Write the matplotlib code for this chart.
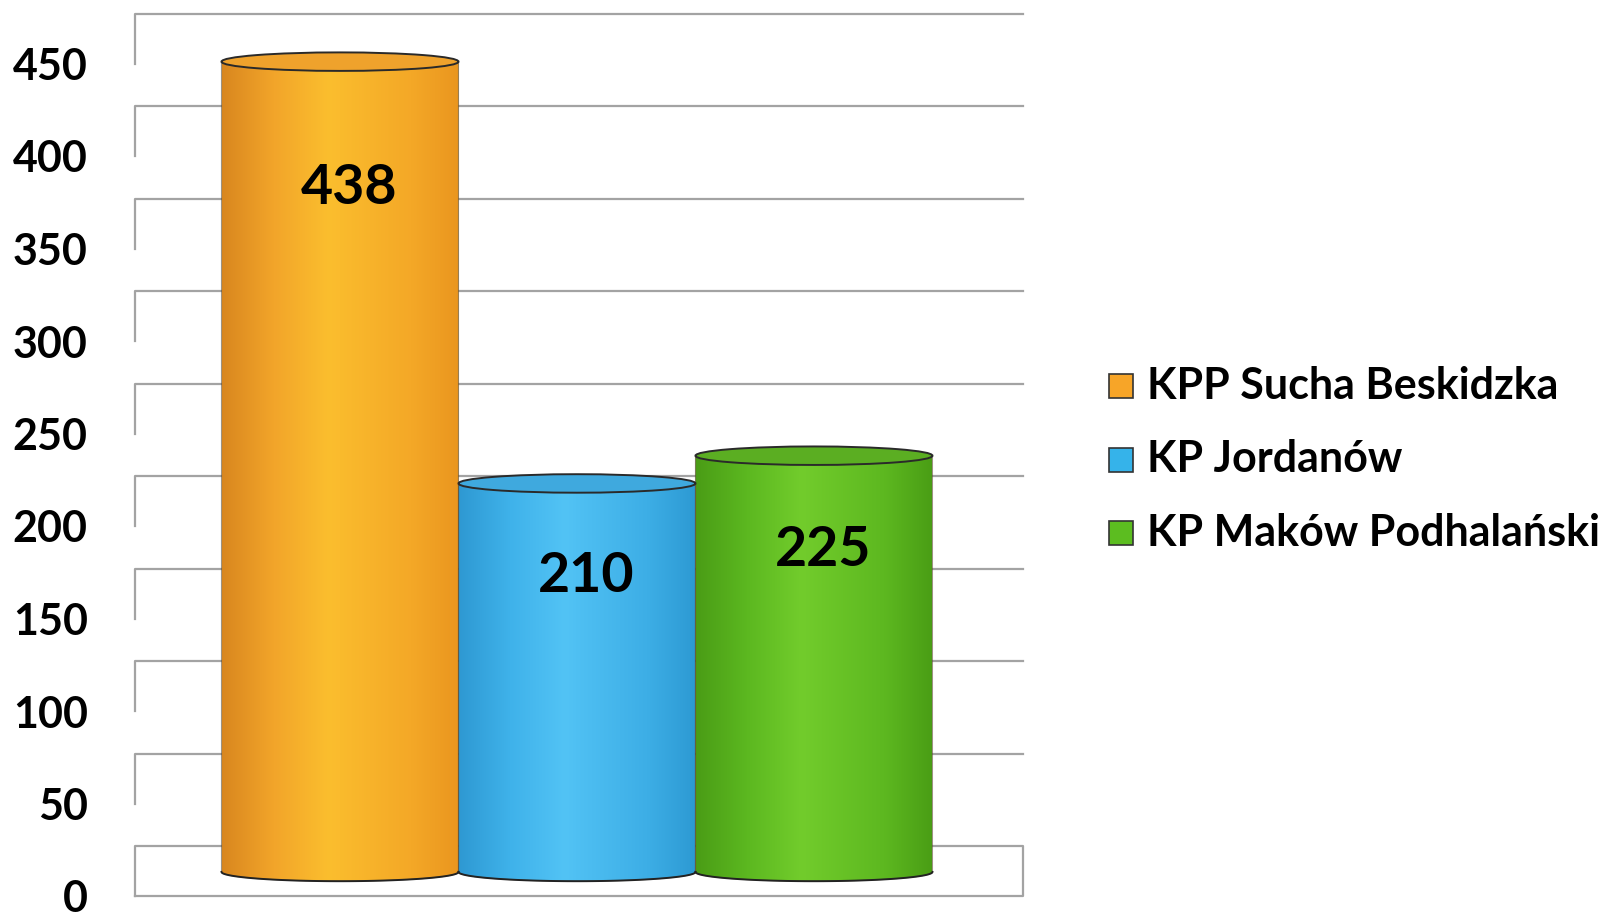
import numpy as np
import matplotlib
matplotlib.use("Agg")
from matplotlib import pyplot as plt
from matplotlib.path import Path
from matplotlib.patches import Ellipse, Rectangle, PathPatch
from matplotlib.colors import LinearSegmentedColormap

plt.rcParams['font.family'] = ['Lato', 'DejaVu Sans']
plt.rcParams['font.weight'] = 'bold'

# data
units = ["KPP Sucha Beskidzka", "KP Jordanów", "KP Maków Podhalański"]
values = [438, 210, 225]
yticks = [0, 50, 100, 150, 200, 250, 300, 350, 400, 450]

# colours: legend colour, body gradient (left -> highlight -> right), top cap
legend_colors = ["#F7A528", "#35B3EA", "#5CBD20"]
body_stops = [["#D9871F", "#F2A52A", "#FBBE2E", "#F4A827", "#EA961F"],
              ["#2E98D2", "#3FB2EA", "#52C3F5", "#3DAEE6", "#2D9AD3"],
              ["#4A9C16", "#5CB820", "#72CC2C", "#5DB820", "#4A9E15"]]
top_colors = ["#EFA22C", "#3FA9DE", "#5BAE22"]

back_off = 27    # depth of the back wall in value units
mid_off = 13     # depth where cylinders stand
ell_h = 10       # ellipse height in value units

fig = plt.figure(figsize=(16.24, 9.19), dpi=100)
W, H = 1624, 919
ax = fig.add_axes([135 / W, 23 / H, 888 / W, 480 * 1.85 / H])
ax.set_xlim(-0.865, 2.882)
ax.set_ylim(0, 480)
for s in ax.spines.values():
    s.set_visible(False)
ax.set_xticks([])
ax.set_yticks(yticks)
ax.set_yticklabels([str(t) for t in yticks], fontsize=31, fontweight='bold')
ax.tick_params(axis='y', length=0, pad=34)

xl, xr = ax.get_xlim()
grid_kw = dict(color="#A3A3A3", lw=1.6, zorder=1, clip_on=False)

# back wall and side wall gridlines
for t in yticks[1:]:
    ax.plot([xl, xl, xr], [t, t + back_off, t + back_off], **grid_kw)
# floor
ax.plot([xl, xl, xr, xr, xl], [0, back_off, back_off, 0, 0], **grid_kw)

# cylinders
theta = np.linspace(np.pi, 2 * np.pi, 60)
for i, (v, stops, tc) in enumerate(zip(values, body_stops, top_colors)):
    x0, x1 = i - 0.5, i + 0.5
    base = mid_off
    top = v + mid_off
    bx = i + 0.5 * np.cos(theta)
    by = base + 0.5 * ell_h * np.sin(theta)
    verts = list(zip(bx, by)) + [(x1, top), (x0, top), (bx[0], by[0])]
    codes = [Path.MOVETO] + [Path.LINETO] * (len(verts) - 2) + [Path.CLOSEPOLY]
    clip = PathPatch(Path(verts, codes), facecolor='none', edgecolor='none')
    ax.add_patch(clip)
    cmap = LinearSegmentedColormap.from_list("c%d" % i,
                                             list(zip([0, 0.22, 0.45, 0.8, 1], stops)))
    grad = np.linspace(0, 1, 256).reshape(1, -1)
    im = ax.imshow(grad, cmap=cmap, aspect='auto', interpolation='bilinear',
                   extent=[x0, x1, base - ell_h, top], zorder=2)
    im.set_clip_path(clip)
    im.set_clip_on(True)
    # outline
    ax.add_patch(PathPatch(Path(verts, codes), facecolor='none', edgecolor="#5A4A30",
                           lw=0.8, zorder=3, alpha=0.6, clip_on=False))
    ax.plot(bx, by, color="#222222", lw=1.4, zorder=3, clip_on=False)
    ax.add_patch(Ellipse((i, top), 1, ell_h, facecolor=tc, edgecolor="#2A2A2A",
                         lw=1.4, zorder=4, clip_on=False))
    ax.text(i + 0.04, 0.92 * v - 20, str(v), ha='center', va='center', fontsize=40,
            fontweight='bold', color='black', zorder=5)

# legend
for k, (lab, c) in enumerate(zip(units, legend_colors)):
    yc = 1 - (386 + 73.5 * k) / H
    fig.patches.append(Rectangle((1109 / W, yc - 12 / H), 24 / W, 24 / H,
                                 transform=fig.transFigure, facecolor=c,
                                 edgecolor="#333333", lw=1.2))
    fig.text(1147 / W, yc, lab, ha='left', va='center', fontsize=31,
             fontweight='bold', color='black')

fig.savefig("out.png", dpi=100, facecolor='white')
